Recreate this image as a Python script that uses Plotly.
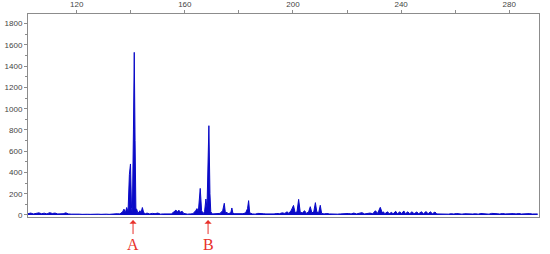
import plotly.graph_objects as go

# fragment size (bp) vs signal intensity
size_bp = [
    102, 103, 104, 105, 106, 107, 108, 109, 110, 111, 112, 113, 114, 115, 116, 117,
    118, 119, 120, 121, 122, 123, 124, 125, 126, 127, 128, 129, 130, 131, 132, 133,
    134, 135, 136, 137, 137.5, 138, 138.5, 139, 139.5, 139.9, 140.3, 140.6, 141, 141.3,
    141.6, 141.9, 142.2, 142.6, 143, 143.4, 143.8, 144.3, 144.8, 145.5, 146, 147, 148,
    149, 150, 151, 152, 153, 154, 155, 156, 156.7, 157.3, 157.8, 158.4, 159, 159.6,
    160.5, 161, 162, 163, 164, 164.5, 165, 165.7, 166.2, 166.8, 167.3, 167.8, 168.2,
    168.5, 168.9, 169.3, 169.6, 170.2, 171, 172, 173, 174, 174.6, 175, 175.6, 176, 177,
    177.4, 177.8, 178.5, 179.5, 180.5, 181.5, 182.5, 183.2, 183.6, 184, 185, 186, 187,
    188, 189, 190, 191, 192, 193, 194, 195, 196, 197, 197.8, 198.5, 199.4, 200.2, 200.8,
    201.5, 202.1, 202.7, 203.5, 204.3, 205, 205.8, 206.4, 207, 207.7, 208.3, 208.8,
    209.5, 210.1, 210.6, 211.5, 212.5, 213.5, 214.5, 215.5, 216.5, 217.5, 218.5, 219.5,
    220.5, 221.5, 222.5, 223.5, 224.5, 225.5, 226.5, 227.5, 228.5, 229.5, 230.5, 231.3,
    232.3, 233, 233.4, 234, 235, 235.6, 236.5, 237, 238, 238.6, 239.6, 240.2, 241, 241.6,
    242.5, 243.2, 244, 244.8, 245.8, 246.5, 247.5, 248.3, 249.2, 250, 250.8, 251.6, 252.5,
    253.2, 254.5, 255.5, 256.5, 257.5, 258.5, 259.5, 260.5, 261.5, 262.5, 263.5, 264.5,
    265.5, 266.5, 267.5, 268.5, 269.5, 270.5, 271.5, 272.5, 273.5, 274.5, 275.5, 276.5,
    277.5, 278.5, 279.5, 280.5, 281.5, 282.5, 283.5, 284.5, 285.5, 286.5, 287.5, 288.5,
    289.5, 290.5,
]
signal = [
    12, 18, 10, 16, 20, 12, 17, 10, 22, 14, 18, 10, 8, 12, 20, 10,
    8, 10, 6, 8, 6, 10, 7, 6, 9, 6, 8, 6, 10, 8, 6, 9,
    7, 12, 10, 30, 55, 20, 70, 30, 380, 480, 60, 20, 800, 1530,
    700, 60, 55, 20, 25, 40, 20, 70, 20, 12, 18, 10, 15,
    12, 18, 8, 10, 8, 12, 10, 30, 45, 30, 45, 25, 35, 15,
    10, 8, 10, 12, 40, 60, 30, 250, 40, 15, 30, 150, 60,
    300, 840, 200, 30, 10, 12, 10, 15, 40, 110, 20, 25, 12, 20,
    66, 15, 12, 10, 14, 12, 20, 60, 135, 20, 10, 8, 15,
    10, 12, 10, 8, 12, 10, 14, 12, 20, 15, 30, 15, 45, 90, 20,
    30, 147, 25, 20, 40, 15, 30, 78, 20, 30, 116, 30,
    20, 91, 15, 10, 14, 10, 8, 12, 8, 10, 12, 8,
    14, 10, 18, 10, 15, 22, 10, 15, 18, 12, 40, 15,
    72, 20, 30, 12, 30, 12, 25, 10, 35, 12, 30, 12, 38, 12,
    30, 12, 30, 12, 28, 12, 30, 12, 32, 12, 30, 12, 28,
    10, 8, 6, 10, 8, 12, 9, 14, 10, 8, 12, 10, 14,
    9, 12, 8, 14, 10, 12, 8, 15, 10, 12, 9, 14,
    10, 12, 8, 13, 10, 14, 9, 12, 10, 13, 9, 12,
    10, 11,
]

x_ticks = [120, 160, 200, 240, 280]
y_ticks = [0, 200, 400, 600, 800, 1000, 1200, 1400, 1600, 1800]

# marked peaks
marker_labels = ["A", "B"]
marker_sizes = [140.85, 168.6]

blue = "#0A0AC8"
red = "#E8302A"
grey = "#8C8C8C"

fig = go.Figure()
fig.add_trace(
    go.Scatter(
        x=size_bp,
        y=signal,
        mode="lines",
        line={"color": blue, "width": 1},
        fill="tozeroy",
        fillcolor=blue,
        hoverinfo="skip",
    )
)

for label, pos in zip(marker_labels, marker_sizes):
    fig.add_annotation(
        x=pos,
        y=-0.015,
        xref="x",
        yref="paper",
        text=label,
        showarrow=True,
        arrowhead=1,
        arrowsize=1.2,
        arrowwidth=1,
        arrowcolor=red,
        ax=0,
        ay=24,
        font={"family": "Liberation Serif", "size": 16, "color": red},
    )

tick_font = {"family": "Liberation Sans", "size": 8, "color": "#444444"}

fig.update_layout(
    width=550,
    height=254,
    margin={"l": 28, "r": 11, "t": 14, "b": 37, "autoexpand": False},
    plot_bgcolor="white",
    paper_bgcolor="white",
    showlegend=False,
)
fig.update_xaxes(
    range=[102, 291],
    side="top",
    automargin=False,
    tickvals=x_ticks,
    ticks="outside",
    ticklen=3,
    tickcolor=grey,
    tickfont=tick_font,
    showgrid=False,
    zeroline=False,
    showline=True,
    linecolor=grey,
    linewidth=1,
    mirror=True,
    minor={"dtick": 20, "tick0": 100, "ticks": "outside", "ticklen": 3, "tickcolor": grey},
)
fig.update_yaxes(
    range=[-19, 1891],
    automargin=False,
    tickvals=y_ticks,
    ticks="outside",
    ticklen=3,
    tickcolor=grey,
    tickfont=tick_font,
    showgrid=False,
    zeroline=False,
    showline=True,
    linecolor=grey,
    linewidth=1,
    mirror=True,
    minor={"dtick": 100, "ticks": "outside", "ticklen": 2, "tickcolor": grey},
)

# drop the browser's default body margin so the figure sits at the page corner
fig.write_html(
    "out.html",
    config={"displayModeBar": False},
    post_script="document.body.style.margin = '0';",
)
